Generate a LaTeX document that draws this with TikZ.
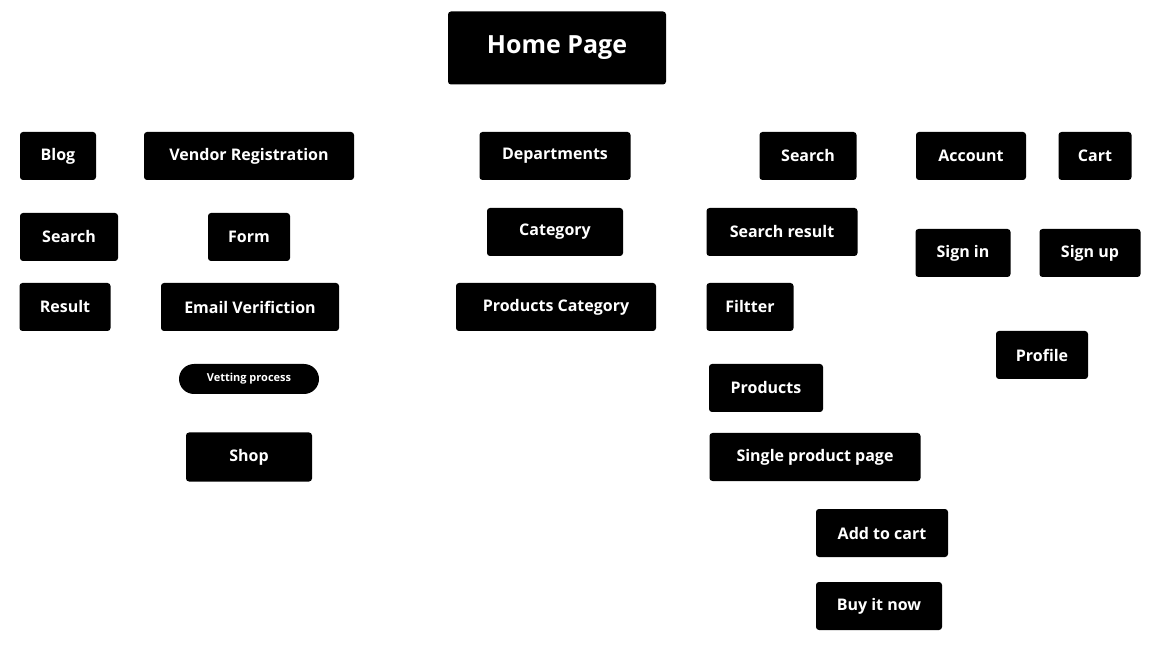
\documentclass[tikz,border=0pt]{standalone}
\usepackage{fontspec}
\setsansfont{Open Sans}
\usetikzlibrary{backgrounds}
\definecolor{wire}{HTML}{1B2033}
\tikzset{
  box/.style={fill=black,text=white,rounded corners=3pt,inner sep=0pt,
    font=\sffamily\bfseries\fontsize{16}{18}\selectfont,minimum height=48},
  link/.style={draw=wire,line width=1.6pt},
}
\begin{document}
\begin{tikzpicture}[x=1pt,y=-1pt]
\useasboundingbox[fill=white] (0,0) rectangle (1163,660);
% top row
\node[box,minimum width=218,minimum height=73,font=\sffamily\bfseries\fontsize{25}{28}\selectfont] (home) at (557,48) {Home Page};
\node[box,minimum width=76] (blog) at (58,156) {Blog};
\node[box,minimum width=210] (vendor) at (249,156) {Vendor Registration};
\node[box,minimum width=151] (dep) at (555,156) {Departments};
\node[box,minimum width=97] (search) at (808,156) {Search};
\node[box,minimum width=110] (account) at (971,156) {Account};
\node[box,minimum width=73] (cart) at (1095,156) {Cart};
% blog
\node[box,minimum width=98] (bsearch) at (69,237) {Search};
\node[box,minimum width=91] (bresult) at (65,307) {Result};
% vendor
\node[box,minimum width=82] (form) at (249,237) {Form};
\node[box,minimum width=178] (email) at (250,307) {Email Verifiction};
\node[box,minimum width=140,minimum height=30,rounded corners=15pt,
  font=\sffamily\bfseries\fontsize{11}{13}\selectfont] (vet) at (249,379) {Vetting process};
\node[box,minimum width=126,minimum height=49] (shop) at (249,457) {Shop};
% departments
\node[box,minimum width=136] (cat) at (555,232) {Category};
\node[box,minimum width=200] (pcat) at (556,307) {Products Category};
% search
\node[box,minimum width=151] (sresult) at (782,232) {Search result};
\node[box,minimum width=87] (filtter) at (750,307) {Filtter};
\node[box,minimum width=114] (products) at (766,388) {Products};
\node[box,minimum width=211] (single) at (815,457) {Single product page};
\node[box,minimum width=132] (add) at (882,533) {Add to cart};
\node[box,minimum width=126] (buy) at (879,606) {Buy it now};
% account
\node[box,minimum width=95] (signin) at (963,253) {Sign in};
\node[box,minimum width=101] (signup) at (1090,253) {Sign up};
\node[box,minimum width=92] (profile) at (1042,355) {Profile};
\begin{scope}[on background layer,link]
\draw[rounded corners=40] (home.west) -| ([xshift=4]blog.north);
\draw[rounded corners=40] (home.west) -| (vendor.north);
\draw[rounded corners=40] (home.east) -| ([xshift=14]search.north);
\draw[rounded corners=40] (home.east) -| ([xshift=9]account.north);
\draw[rounded corners=40] (home.east) -| (cart.north);
\draw (home) -- (dep) -- (cat) -- (pcat);
\draw ([xshift=4]blog.south) -- ([xshift=4]blog.south |- bresult.north);
\draw (vendor) -- (form) -- (email) -- (vet) -- (shop);
\draw ([xshift=14]search.south) -- ([xshift=14]search.south |- sresult.north);
\coordinate (loop) at (884,307);
\coordinate (fork) at (679,307);
\draw[rounded corners=25] (sresult.east) -| (loop) |- ([yshift=-3]products.east);
\draw (filtter.east) -- (loop);
\draw (pcat.east) -- (filtter.west);
\draw[rounded corners=25] (fork) |- (products.west);
\draw (filtter.south) -- (filtter.south |- products.north);
\draw (filtter.south |- products.south) -- (filtter.south |- single.north);
\coordinate (spine) at (filtter.south |- single.south);
\draw[rounded corners=25] (spine) |- (buy.west);
\draw (spine |- add.west) -- (add.west);
\coordinate (acc) at ([xshift=9]account.south);
\draw (acc) -- (acc |- signin.north);
\coordinate (split) at (980,205);
\draw[rounded corners=20] (split) -| ([xshift=-5]signup.north);
\coordinate (join) at (1043,300);
\draw[rounded corners=20] ([xshift=17]signin.south) |- (join) -| ([xshift=8]signup.south);
\draw (join) -- (profile.north);
\end{scope}
\end{tikzpicture}
\end{document}
